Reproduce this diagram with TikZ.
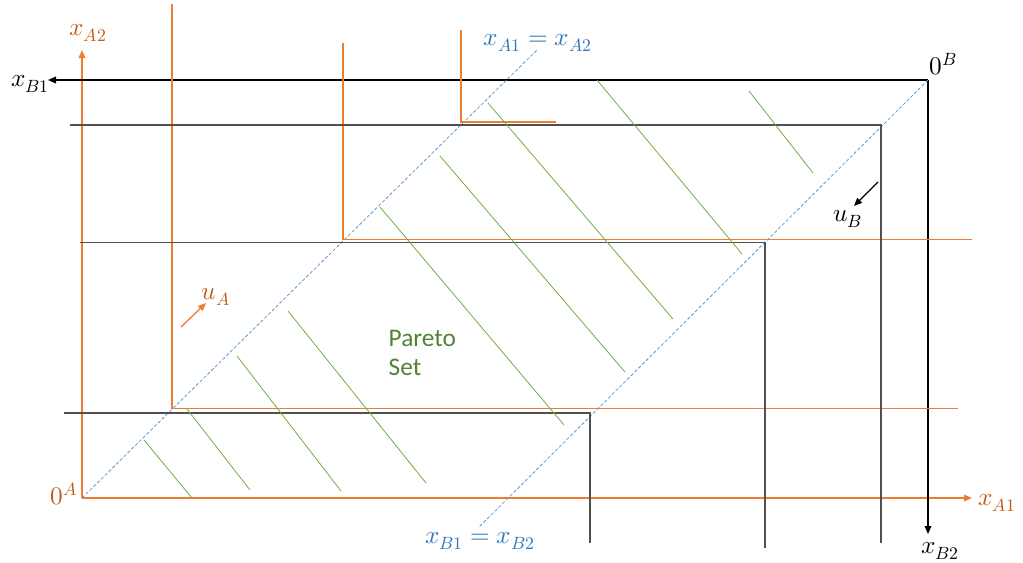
\documentclass[tikz,border=0pt]{standalone}
\usepackage{fontspec}
\usepackage{unicode-math}
\newfontfamily\calibri{Carlito}
\usepackage{tikz}
\usetikzlibrary{arrows.meta}
\definecolor{acol}{RGB}{237,125,49}
\definecolor{alab}{RGB}{197,90,17}
\definecolor{bcol}{RGB}{80,80,80}
\definecolor{diagcol}{RGB}{91,155,213}
\definecolor{diaglab}{RGB}{46,117,182}
\definecolor{hatchcol}{RGB}{112,173,71}
\definecolor{setcol}{RGB}{84,130,53}

\begin{document}
\begin{tikzpicture}[
        x=0.75pt, y=-0.75pt,
        axA/.style={-{Triangle[length=6pt,width=5pt]}, acol, line width=1pt},
        axB/.style={-{Triangle[length=6pt,width=5pt]}, black, line width=1pt},
        indA/.style={acol, line width=0.9pt},
        indB/.style={bcol, line width=0.9pt},
        diag/.style={diagcol, line width=0.6pt, dash pattern=on 2.5pt off 1.5pt},
        hatch/.style={hatchcol, line width=0.6pt},
        lblA/.style={text=alab, font=\fontsize{19}{22}\selectfont},
        lblB/.style={text=black, font=\fontsize{19}{22}\selectfont},
        lblD/.style={text=diaglab, font=\fontsize{19}{22}\selectfont},
      ]
        \useasboundingbox (0,0) rectangle (1023,562);

        % ── Origins ──
        \coordinate (OA) at (82,498);
        \coordinate (OB) at (928,80);

        % ── Axes ──
        \coordinate (xa1) at (972,498);
        \coordinate (xa2) at (82,50);
        \coordinate (xb1) at (48,80);
        \coordinate (xb2) at (928,534);
        \draw[axA] (OA)--(xa1);
        \draw[axA] (OA)--(xa2);
        \draw[axB] (OB)--(xb1);
        \draw[axB] (OB)--(xb2);

        \node[lblA] (l0A) at (64,494) {$0^A$};
        \node[lblA] (lxa1) at (997,503) {$x_{A1}$};
        \node[lblA] (lxa2) at (88,33) {$x_{A2}$};
        \node[lblB] (l0B) at (943,64) {$0^B$};
        \node[lblB] (lxb1) at (30,84) {$x_{B1}$};
        \node[lblB] (lxb2) at (940,551) {$x_{B2}$};

        % ── Diagonals ──
        \coordinate (dA) at (538,49);
        \coordinate (dB) at (479,527);
        \draw[diag] (OA)--(dA);
        \draw[diag] (OB)--(dB);
        \node[lblD] (ldA) at (538,43) {$x_{A1}=x_{A2}$};
        \node[lblD] (ldB) at (480,541) {$x_{B1}=x_{B2}$};

        % ── Indifference curves of A ──
        \coordinate (a1) at (172,408.5);
        \coordinate (a2) at (343,239.5);
        \coordinate (a3) at (461,122);
        \draw[indA] (172,4) -- (a1) -- (958,408.5);
        \draw[indA] (343,43) -- (a2) -- (972,239.5);
        \draw[indA] (461,30) -- (a3) -- (556,122);

        % ── Indifference curves of B ──
        \coordinate (b1) at (881,125);
        \coordinate (b2) at (765,242.5);
        \coordinate (b3) at (590,413);
        \draw[indB] (70,125) -- (b1) -- (881,543);
        \draw[indB] (80,242.5) -- (b2) -- (765,548);
        \draw[indB] (64,413) -- (b3) -- (590,543);

        % ── Utility directions ──
        \coordinate (uA0) at (181,327);
        \coordinate (uA1) at (206,303);
        \draw[axA] (uA0)--(uA1);
        \node[lblA] (luA) at (216,297) {$u_A$};
        \coordinate (uB0) at (878,182);
        \coordinate (uB1) at (854,206);
        \draw[axB] (uB0)--(uB1);
        \node[lblB] (luB) at (848,219) {$u_B$};

        % ── Pareto set hatching ──
        \foreach \p/\q/\r/\s in {144/440/192/498, 187/409/250/490,
            237/356/341/491, 288/311/426/483, 380/207/564/425,
            440/156/625/372, 488/103/673/319, 597/80/742/254,
            749/91/813/173}
          \draw[hatch] (\p,\q) -- (\r,\s);

        \node[text=setcol, font=\calibri\fontsize{19}{22}\selectfont,
              align=left, anchor=west] (pset) at (384,353) {Pareto\\Set};
      \end{tikzpicture}
\end{document}
